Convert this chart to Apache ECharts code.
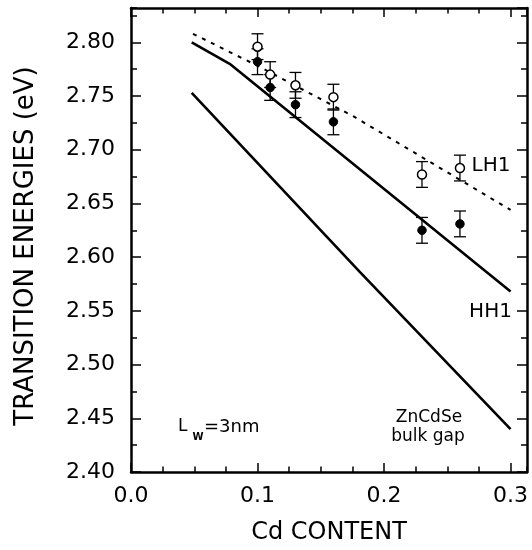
<!DOCTYPE html>
<html>
<head>
<meta charset="utf-8">
<script src="https://cdn.jsdelivr.net/npm/echarts@6/dist/echarts.min.js"></script>
<style>
  html, body { margin: 0; padding: 0; background: #fff; }
  #box { width: 532px; height: 550px; }
</style>
</head>
<body>
<div id="box"></div>
<script>
// measured points (Cd content, eV)
var cdExp = [0.10, 0.11, 0.13, 0.16, 0.23, 0.26];
var lh1Exp = [2.796, 2.770, 2.760, 2.749, 2.677, 2.683];
var hh1Exp = [2.782, 2.758, 2.742, 2.726, 2.625, 2.631];
var errLh1 = [0.012, 0.012, 0.012, 0.012, 0.012, 0.012];
var errHh1 = [0.012, 0.012, 0.012, 0.012, 0.012, 0.012];

// calculated curves
var lh1CalcX = [0.049, 0.102, 0.176, 0.300];
var lh1CalcY = [2.808, 2.777, 2.731, 2.644];
var hh1CalcX = [0.048, 0.078, 0.300];
var hh1CalcY = [2.800, 2.780, 2.568];
var bulkX = [0.048, 0.181, 0.300];
var bulkY = [2.753, 2.586, 2.440];

var xMin = 0, xMax = 0.313, yMin = 2.40, yMax = 2.832;
var FONT = "DejaVu Sans";

function pairs(xs, ys) {
  return xs.map(function (x, i) { return [x, ys[i]]; });
}
function bars(xs, ys, es) {
  return xs.map(function (x, i) { return [x, ys[i] - es[i], ys[i] + es[i]]; });
}

function renderErr(params, api) {
  var x = api.value(0);
  var lo = api.coord([x, api.value(1)]);
  var hi = api.coord([x, api.value(2)]);
  var w = 6;
  var st = { stroke: "#000", lineWidth: 1.3 };
  return {
    type: "group",
    children: [
      { type: "line", shape: { x1: lo[0], y1: lo[1], x2: hi[0], y2: hi[1] }, style: st },
      { type: "line", shape: { x1: lo[0] - w, y1: lo[1], x2: lo[0] + w, y2: lo[1] }, style: st },
      { type: "line", shape: { x1: hi[0] - w, y1: hi[1], x2: hi[0] + w, y2: hi[1] }, style: st }
    ]
  };
}

function xAx(pos, major, labels) {
  return {
    type: "value", position: pos, min: xMin, max: xMax,
    interval: major ? 0.1 : 0.025,
    axisLine: { show: major, onZero: false, lineStyle: { color: "#000", width: 2.5 } },
    axisTick: { show: true, inside: true, length: major ? 9 : 5.5, lineStyle: { color: "#000", width: 1.5 } },
    axisLabel: labels ? {
      show: true, color: "#000", fontSize: 22, fontFamily: FONT, margin: 13,
      showMaxLabel: false,
      formatter: function (v) { return v.toFixed(1); }
    } : { show: false },
    splitLine: { show: false },
    name: labels ? "Cd CONTENT" : "",
    nameLocation: "middle", nameGap: 49,
    nameTextStyle: { color: "#000", fontSize: 24, fontFamily: FONT }
  };
}
function yAx(pos, major, labels) {
  return {
    type: "value", position: pos, min: yMin, max: yMax,
    interval: major ? 0.05 : 0.025,
    axisLine: { show: major, onZero: false, lineStyle: { color: "#000", width: 2.5 } },
    axisTick: { show: true, inside: true, length: major ? 10 : 6, lineStyle: { color: "#000", width: 1.5 } },
    axisLabel: labels ? {
      show: true, color: "#000", fontSize: 22, fontFamily: FONT, margin: 16,
      showMaxLabel: false,
      formatter: function (v) { return v.toFixed(2); }
    } : { show: false },
    splitLine: { show: false },
    name: labels ? "TRANSITION ENERGIES (eV)" : "",
    nameLocation: "middle", nameGap: 92, nameRotate: 90,
    nameTextStyle: { color: "#000", fontSize: 26, fontFamily: FONT, padding: [0, 12, 0, 0] }
  };
}

function txt(x, y, s, size, align, bold) {
  return {
    type: "text", x: x, y: y,
    style: {
      text: s, fill: "#000", fontSize: size, fontFamily: FONT,
      fontWeight: bold ? "bold" : "normal",
      textAlign: align, align: align,
      textVerticalAlign: "middle", verticalAlign: "middle"
    }
  };
}

var chart = echarts.init(document.getElementById("box"));
var option = {
  animation: false,
  backgroundColor: "#fff",
  grid: { left: 131, right: 5, top: 8, bottom: 75, containLabel: false },
  xAxis: [xAx("bottom", true, true), xAx("bottom", false, false), xAx("top", true, false), xAx("top", false, false)],
  yAxis: [yAx("left", true, true), yAx("left", false, false), yAx("right", true, false), yAx("right", false, false)],
  graphic: [
    txt(491, 165.5, "LH1", 20, "center"),
    txt(490.5, 311.5, "HH1", 20, "center"),
    txt(429, 418, "ZnCdSe", 17, "center"),
    txt(428, 437, "bulk gap", 17, "center"),
    txt(178, 427, "L", 17, "left"),
    txt(192.5, 437, "W", 10, "left", true),
    txt(204, 427, "=3nm", 18, "left")
  ],
  series: [
    {
      type: "line", data: pairs(bulkX, bulkY), symbol: "none", z: 2,
      lineStyle: { color: "#000", width: 2.6 }
    },
    {
      type: "line", data: pairs(hh1CalcX, hh1CalcY), symbol: "none", z: 2,
      lineStyle: { color: "#000", width: 2.6 }
    },
    {
      type: "line", data: pairs(lh1CalcX, lh1CalcY), symbol: "none", z: 2,
      lineStyle: { color: "#000", width: 2, type: [4, 6] }
    },
    {
      type: "custom", renderItem: renderErr, data: bars(cdExp, lh1Exp, errLh1),
      encode: { x: 0, y: [1, 2] }, z: 3
    },
    {
      type: "custom", renderItem: renderErr, data: bars(cdExp, hh1Exp, errHh1),
      encode: { x: 0, y: [1, 2] }, z: 3
    },
    {
      type: "scatter", data: pairs(cdExp, hh1Exp), symbol: "circle", symbolSize: 8.5, z: 5,
      itemStyle: { color: "#000", borderColor: "#000", borderWidth: 1, opacity: 1 }
    },
    {
      type: "scatter", data: pairs(cdExp, lh1Exp), symbol: "circle", symbolSize: 9, z: 6,
      itemStyle: { color: "#fff", borderColor: "#000", borderWidth: 1.5, opacity: 1 }
    }
  ]
};
chart.setOption(option);
</script>
</body>
</html>
